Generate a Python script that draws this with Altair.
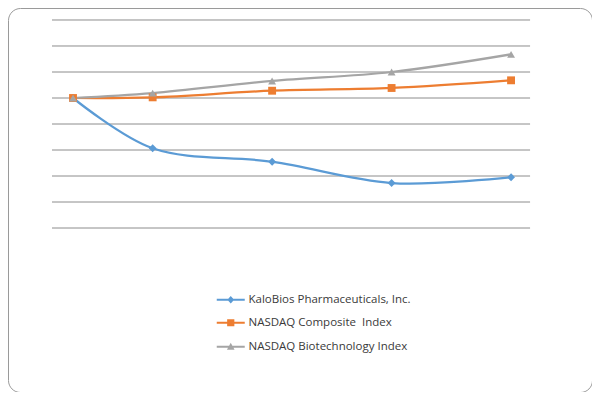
import altair as alt
import pandas as pd

series = ["KaloBios Pharmaceuticals, Inc.", "NASDAQ Composite \u00a0Index", "NASDAQ Biotechnology Index"]
months = [0, 8, 20, 32, 44]
kalo = [100, 61.3, 51.0, 34.6, 39.0]
composite = [100, 100.5, 105.6, 107.7, 113.6]
biotech = [100, 103.8, 113.1, 120.0, 133.6]
grid_values = [0, 20, 40, 60, 80, 100, 120, 140, 160]
grid_x = [-2.11, 45.91]

colors = ["#5B9BD5", "#ED7D31", "#A5A5A5"]
marker_shapes = ["diamond", "square", "triangle-up"]
legend_shapes = [
    "M-3.5,-0.28H3.5V0.28H-3.5Z M0,-0.95L0.85,0L0,0.95L-0.85,0Z",
    "M-3.5,-0.28H3.5V0.28H-3.5Z M-0.9,-0.9H0.9V0.9H-0.9Z",
    "M-3.5,-0.28H3.5V0.28H-3.5Z M0,-1.0L0.95,0.75H-0.95Z",
]

rows = []
for name, vals in zip(series, [kalo, composite, biotech]):
    for m, v in zip(months, vals):
        rows.append({"series": name, "month": m, "value": v})
df = pd.DataFrame(rows)
grid_df = pd.DataFrame({"g": grid_values, "x0": grid_x[0], "x1": grid_x[1]})

xs = alt.Scale(domain=[-6.53, 52.13], nice=False, zero=False)
ys = alt.Scale(domain=[-126.15, 169.23], nice=False, zero=False)
cs = alt.Scale(domain=series, range=colors)

grid = alt.Chart(grid_df).mark_rule(color="#8c8c8c", strokeWidth=1).encode(
    x=alt.X("x0:Q", scale=xs, axis=None),
    x2="x1:Q",
    y=alt.Y("g:Q", scale=ys, axis=None),
)

lines = alt.Chart(df).mark_line(interpolate="catmull-rom", strokeWidth=2.25).encode(
    x=alt.X("month:Q", scale=xs, axis=None),
    y=alt.Y("value:Q", scale=ys, axis=None),
    color=alt.Color("series:N", scale=cs, legend=None),
)

points = alt.Chart(df).mark_point(filled=True, opacity=1).encode(
    x=alt.X("month:Q", scale=xs, axis=None),
    y=alt.Y("value:Q", scale=ys, axis=None),
    color=alt.Color("series:N", scale=cs, legend=None),
    shape=alt.Shape("series:N", scale=alt.Scale(domain=series, range=marker_shapes), legend=None),
    size=alt.value(62),
)

leg = dict(
    title=None, orient="none", legendX=217, legendY=286,
    symbolSize=64, symbolOpacity=1, labelOffset=12,
    labelFont="Open Sans", labelFontSize=11.5, labelColor="#3a3a3a",
    rowPadding=9, labelLimit=400,
)

legend_layer = alt.Chart(df).mark_point(filled=True, opacity=0).encode(
    x=alt.X("month:Q", scale=xs, axis=None),
    y=alt.Y("value:Q", scale=ys, axis=None),
    color=alt.Color("series:N", scale=cs, legend=alt.Legend(**leg)),
    shape=alt.Shape("series:N", scale=alt.Scale(domain=series, range=legend_shapes), legend=alt.Legend(**leg)),
)

chart = alt.layer(grid, lines, points, legend_layer).resolve_scale(
    shape="independent", color="independent"
).properties(
    width=584, height=384, padding=0, autosize=alt.AutoSizeParams(type="none"),
    background="white",
).configure_view(stroke="#9a9a9a", strokeWidth=1, cornerRadius=12)

chart.save("out.html", embed_options={"renderer": "svg", "actions": False})
